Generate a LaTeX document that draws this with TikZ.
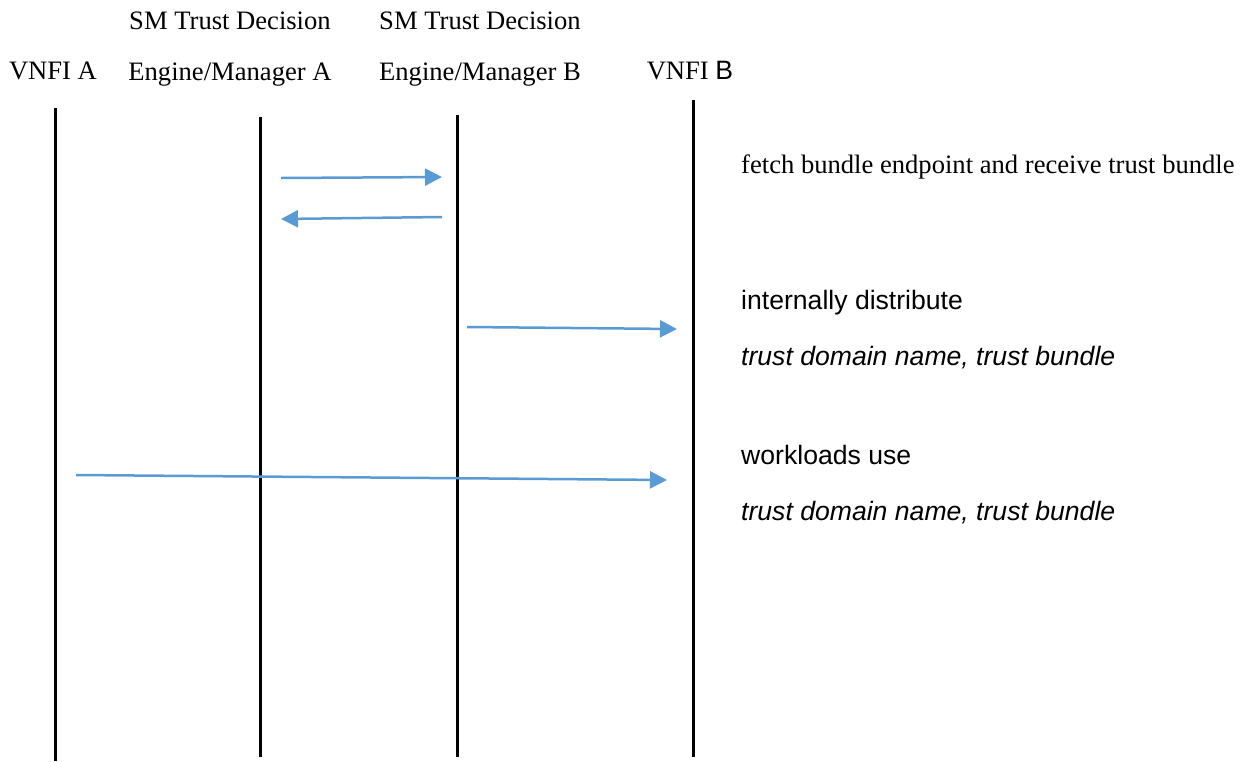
\documentclass[tikz,border=0pt]{standalone}
\usepackage{fontspec}
\setmainfont{Liberation Serif}
\setsansfont{Liberation Sans}
\usetikzlibrary{arrows.meta}
\definecolor{msgblue}{RGB}{91,155,213}
\tikzset{
life/.style={line width=3pt},
msg/.style={msgblue, line width=2.5pt, -{Triangle[length=17pt,width=17pt]}},
head/.style={font=\fontsize{26.6}{30}\selectfont, inner sep=0pt, anchor=base},
note/.style={font=\fontsize{26.6}{30}\selectfont, inner sep=0pt, anchor=base west}}

\begin{document}
\begin{tikzpicture}[x=1pt,y=-1pt]
    \useasboundingbox (0,0) rectangle (1243,761);

                % participants
                \node[head] (vA) at (53,79) {VNFI A};
                \node[head] (smA1) at (230,29) {SM Trust Decision};
                \node[head] (smA2) at (230,80) {Engine/Manager A};
                \node[head] (smB1) at (480,29) {SM Trust Decision};
                \node[head] (smB2) at (480,80) {Engine/Manager B};
                \node[head] (vB) at (690,79) {VNFI \textsf{B}};

                % lifelines
                \coordinate (vAt) at (55,108);   \coordinate (vAb) at (55,761);
                \coordinate (smAt) at (260,117); \coordinate (smAb) at (260,757);
                \coordinate (smBt) at (457,115); \coordinate (smBb) at (457,757);
                \coordinate (vBt) at (693,100);  \coordinate (vBb) at (693,757);
                \draw[life] (vAt) -- (vAb);
                \draw[life] (smAt) -- (smAb);
                \draw[life] (smBt) -- (smBb);
                \draw[life] (vBt) -- (vBb);

                % messages
                \coordinate (m1s) at (281,178); \coordinate (m1e) at (442,177);
                \coordinate (m2s) at (442,217); \coordinate (m2e) at (281,219);
                \coordinate (m3s) at (467,327); \coordinate (m3e) at (677,329);
                \coordinate (m4s) at (76,475);  \coordinate (m4e) at (667,480);
                \draw[msg] (m1s) -- (m1e);
                \draw[msg] (m2s) -- (m2e);
                \draw[msg] (m3s) -- (m3e);
                \draw[msg] (m4s) -- (m4e);

                % notes
                \node[note] (n1) at (741,173) {fetch bundle endpoint and receive trust bundle};
                \node[note, font=\fontsize{26.6}{30}\selectfont\sffamily] (n2) at (741,309) {internally distribute};
                \node[note, font=\fontsize{26.6}{30}\selectfont\sffamily\itshape] (n3) at (741,365) {trust domain name, trust bundle};
                \node[note, font=\fontsize{26.6}{30}\selectfont\sffamily] (n4) at (741,464) {workloads use};
                \node[note, font=\fontsize{26.6}{30}\selectfont\sffamily\itshape] (n5) at (741,520) {trust domain name, trust bundle};

\end{tikzpicture}
\end{document}
